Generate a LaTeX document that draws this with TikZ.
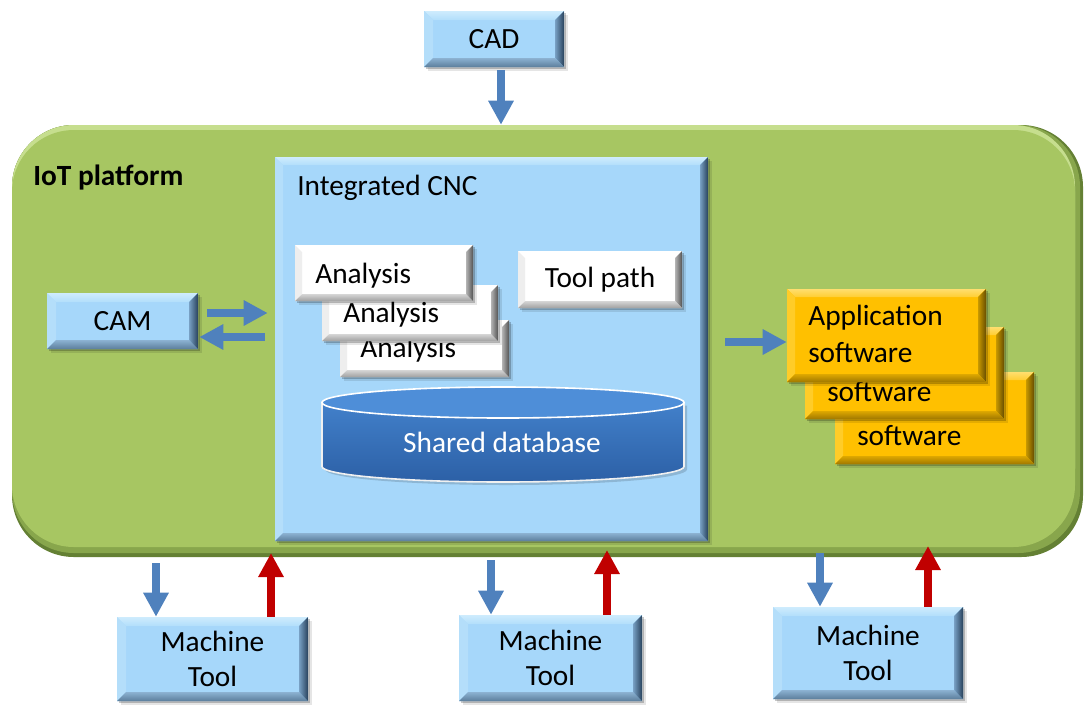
\documentclass[tikz,border=0pt]{standalone}
\usepackage{fontspec}
\setmainfont{Carlito}
\usetikzlibrary{arrows.meta,shadows}

\definecolor{boxblue}{RGB}{166,215,250}
\definecolor{plgreen}{RGB}{167,198,98}
\definecolor{plmid}{RGB}{136,166,76}
\definecolor{pldark}{RGB}{100,128,52}
\definecolor{pllight}{RGB}{198,222,142}
\definecolor{gold}{RGB}{255,192,0}
\definecolor{arrblue}{RGB}{79,129,189}
\definecolor{arrred}{RGB}{192,0,0}
\definecolor{dbtop}{RGB}{78,142,216}
\definecolor{dbhi}{RGB}{66,128,202}
\definecolor{dblo}{RGB}{44,96,166}

\newcommand\mainsize{\fontsize{22}{26}\selectfont}

% four bevel faces inside a rectangular node: #1 width, #2-#5 top/left/bottom/right
\newcommand\bevelfaces[5]{%
  \coordinate (bvsw) at (path picture bounding box.south west);
  \coordinate (bvne) at (path picture bounding box.north east);
  \coordinate (bvnw) at (path picture bounding box.north west);
  \coordinate (bvse) at (path picture bounding box.south east);
  \fill[#2] (bvnw) -- (bvne) -- ([shift={(-#1,-#1)}]bvne) -- ([shift={(#1,-#1)}]bvnw) -- cycle;
  \fill[#3] (bvnw) -- ([shift={(#1,-#1)}]bvnw) -- ([shift={(#1,#1)}]bvsw) -- (bvsw) -- cycle;
  \fill[#4] (bvsw) -- ([shift={(#1,#1)}]bvsw) -- ([shift={(-#1,#1)}]bvse) -- (bvse) -- cycle;
  \fill[#5] (bvse) -- ([shift={(-#1,#1)}]bvse) -- ([shift={(-#1,-#1)}]bvne) -- (bvne) -- cycle;
}

\tikzset{
  bevel/.style n args={5}{path picture={\bevelfaces{#1}{#2}{#3}{#4}{#5}}},
  sz/.style 2 args={minimum width=#1*0.75pt, minimum height=#2*0.75pt, inner sep=0pt},
  soft shadow/.style={
    drop shadow={shadow xshift=3.2pt, shadow yshift=-3.2pt, opacity=.10, fill=black},
    drop shadow={shadow xshift=1.8pt, shadow yshift=-1.8pt, opacity=.22, fill=black}},
  bluebox/.style={rectangle, fill=boxblue, soft shadow, font=\mainsize, align=center,
    bevel={#1}
      {top color={rgb,255:red,206;green,236;blue,253}, bottom color={rgb,255:red,178;green,222;blue,251}}
      {fill={rgb,255:red,180;green,222;blue,250}}
      {top color={rgb,255:red,140;green,178;blue,210}, bottom color={rgb,255:red,92;green,126;blue,156}}
      {left color={rgb,255:red,120;green,160;blue,196}, right color={rgb,255:red,40;green,66;blue,92}}},
  bluebox/.default=6.75pt,
  whitebox/.style={rectangle, fill=white, soft shadow, font=\mainsize,
    bevel={5.25pt}
      {fill=white}
      {fill={rgb,255:red,238;green,238;blue,238}}
      {top color={rgb,255:red,214;green,214;blue,214}, bottom color={rgb,255:red,160;green,160;blue,160}}
      {left color={rgb,255:red,180;green,180;blue,180}, right color={rgb,255:red,84;green,84;blue,84}}},
  goldbox/.style={rectangle, fill=gold, soft shadow, font=\mainsize,
    bevel={6pt}
      {top color={rgb,255:red,255;green,222;blue,110}, bottom color={rgb,255:red,255;green,206;blue,50}}
      {fill={rgb,255:red,255;green,204;blue,40}}
      {top color={rgb,255:red,222;green,168;blue,0}, bottom color={rgb,255:red,160;green,120;blue,0}}
      {left color={rgb,255:red,200;green,152;blue,0}, right color={rgb,255:red,104;green,78;blue,0}}},
  txt/.style={font=\mainsize, inner sep=0pt, anchor=base west},
  barrow/.style={draw=arrblue, line width=6pt, -{Triangle[width=18pt,length=18pt]}},
  rarrow/.style={draw=arrred, line width=6pt, -{Triangle[width=18pt,length=18pt]}},
}

\begin{document}
\begin{tikzpicture}[x=0.75pt,y=-0.75pt]
\useasboundingbox (0,0) rectangle (1084,708);

% CAD source above the platform
\node[bluebox, sz={140}{56}] (cad) at (494,39) {CAD};

% IoT platform: dark rim, graded edge, light top band, green body
\node[rectangle, rounded corners=46.5pt, fill=pldark, sz={1071}{432}] (iot) at (547.5,341) {};
\fill[plmid, rounded corners=46.5pt] (12,125) rectangle (1080,553);
\fill[pllight, rounded corners=46.5pt] (12,125) rectangle (1075,530);
\fill[plgreen, rounded corners=46.5pt] (12,130) rectangle (1075,547);
\node[txt, font=\mainsize\bfseries] (iotlabel) at (33,185) {IoT platform};

% integrated CNC block
\node[bluebox=6pt, sz={433}{384}] (cnc) at (491.5,349) {};
\node[txt] (cnctitle) at (297,195) {Integrated CNC};

% stacked analysis modules (back to front)
\node[whitebox, sz={169}{57}] (an3) at (424.5,348.5) {};
\node[txt] (an3t) at (360,357) {Analysis};
\node[whitebox, sz={176}{56}] (an2) at (410,313) {};
\node[txt] (an2t) at (343,322) {Analysis};
\node[whitebox, sz={178}{56}] (an1) at (384,273) {};
\node[txt] (an1t) at (315,283) {Analysis};

\node[whitebox, sz={164}{57}] (tp) at (600,279.5) {Tool path};

% shared database cylinder
\fill[black, opacity=.15] (325,405.5) -- (325,469.5) arc[start angle=180, end angle=0, x radius=181, y radius=15.5] -- (687,405.5) -- cycle;
\shade[top color=dbhi, bottom color=dblo, draw=white!88!gray, line width=1.2pt]
  (322,402.5) -- (322,466.5) arc[start angle=180, end angle=0, x radius=181, y radius=15.5] -- (684,402.5) -- cycle;
\filldraw[fill=dbtop, draw=white, line width=1.2pt] (503,402.5) ellipse [x radius=181, y radius=15.5];
\node[font=\mainsize, text=white] (db) at (502,442) {Shared database};

% application software stack (back to front)
\node[goldbox, sz={199}{92}] (app3) at (934.5,418) {};
\node[txt] (app3t) at (857,445) {software};
\node[goldbox, sz={199}{92}] (app2) at (904.5,373) {};
\node[txt] (app2t) at (827,401) {software};
\node[goldbox, sz={199}{93}] (app1) at (886.5,335.5) {};
\node[txt] (app1a) at (808,325) {Application};
\node[txt] (app1b) at (808,362) {software};

% CAM
\node[bluebox, sz={151}{56}] (cam) at (122.5,321) {CAM};

% machine tools
\node[bluebox, sz={191}{84}] (mt1) at (212.5,659) {Machine\\Tool};
\node[bluebox, sz={183}{86}] (mt2) at (550.5,658) {Machine\\Tool};
\node[bluebox, sz={190}{92}] (mt3) at (868,653) {Machine\\Tool};

% connectors
\coordinate (cadout) at ([xshift=5.25pt]cad.south);
\draw[barrow, shorten <=2.25pt] (cadout) -- (cadout |- iot.north);

\coordinate (camhi) at ([yshift=6pt]cam.east);
\coordinate (camlo) at ([yshift=-12pt]cam.east);
\draw[barrow, shorten <=6.75pt, shorten >=5.25pt] (camhi) -- (camhi -| cnc.west);
\draw[barrow, shorten <=7.5pt, shorten >=0.75pt] (camlo -| cnc.west) -- (camlo);

\coordinate (appin) at ([yshift=-4.875pt]app1.west);
\draw[barrow, shorten <=12.75pt] (appin -| cnc.east) -- (appin);

\coordinate (b1) at (156,563);
\coordinate (r1) at (271,553);
\coordinate (b2) at (491,560);
\coordinate (r2) at (607,550);
\coordinate (b3) at (820,553);
\coordinate (r3) at (928,546);
\draw[barrow] (b1) -- (b1 |- mt1.north);
\draw[rarrow] (r1 |- mt1.north) -- (r1);
\draw[barrow] (b2) -- (b2 |- mt2.north);
\draw[rarrow] (r2 |- mt2.north) -- (r2);
\draw[barrow] (b3) -- (b3 |- mt3.north);
\draw[rarrow] (r3 |- mt3.north) -- (r3);
\end{tikzpicture}
\end{document}
